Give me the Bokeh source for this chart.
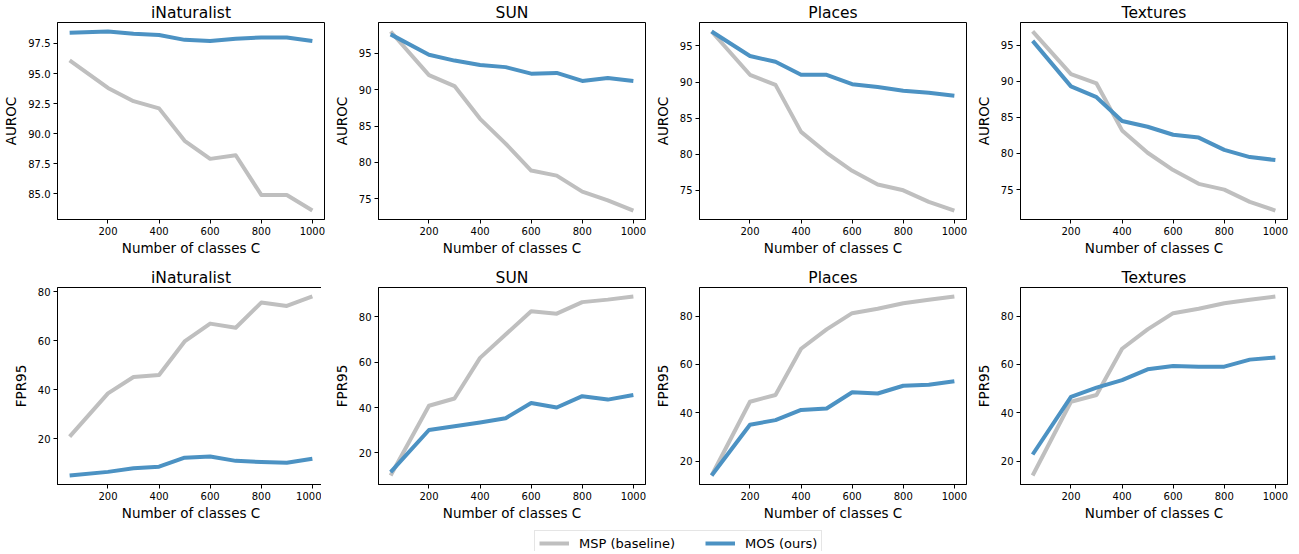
from bokeh.plotting import figure
from bokeh.layouts import gridplot, column
from bokeh.models import Range1d, FixedTicker, PrintfTickFormatter, Legend, LegendItem
from bokeh.embed import file_html
from bokeh.resources import INLINE

# ---- data ----
classes = [50, 200, 300, 400, 500, 600, 700, 800, 900, 1000]
datasets = ["iNaturalist", "SUN", "Places", "Textures"]

msp_auroc_inat = [96.1, 93.8, 92.7, 92.1, 89.4, 87.9, 88.2, 84.9, 84.9, 83.6]
mos_auroc_inat = [98.4, 98.5, 98.3, 98.2, 97.8, 97.7, 97.9, 98.0, 98.0, 97.7]
msp_auroc_sun = [98.0, 92.0, 90.5, 86.0, 82.6, 78.9, 78.2, 76.0, 74.8, 73.4]
mos_auroc_sun = [97.6, 94.8, 94.0, 93.4, 93.1, 92.2, 92.3, 91.2, 91.6, 91.2]
msp_auroc_places = [97.0, 91.0, 89.6, 83.1, 80.2, 77.7, 75.8, 75.0, 73.4, 72.2]
mos_auroc_places = [97.0, 93.6, 92.8, 91.0, 91.0, 89.7, 89.3, 88.8, 88.5, 88.1]
msp_auroc_textures = [96.9, 91.0, 89.7, 83.2, 80.1, 77.7, 75.8, 75.0, 73.3, 72.1]
mos_auroc_textures = [95.6, 89.3, 87.8, 84.5, 83.7, 82.6, 82.2, 80.5, 79.5, 79.1]

msp_fpr_inat = [20.8, 38.5, 45.2, 46.0, 59.7, 67.0, 65.3, 75.6, 74.2, 78.1]
mos_fpr_inat = [4.9, 6.4, 7.9, 8.5, 12.2, 12.7, 10.9, 10.4, 10.1, 11.8]
msp_fpr_sun = [10.0, 40.8, 44.0, 61.9, 72.2, 82.5, 81.4, 86.5, 87.6, 89.0]
mos_fpr_sun = [11.5, 30.1, 31.7, 33.4, 35.3, 42.0, 40.0, 45.0, 43.5, 45.5]
msp_fpr_places = [14.1, 44.6, 47.4, 66.5, 74.5, 81.2, 83.0, 85.3, 86.7, 88.1]
mos_fpr_places = [14.1, 35.1, 37.0, 41.2, 41.8, 48.5, 48.0, 51.2, 51.6, 53.1]
msp_fpr_textures = [14.1, 44.6, 47.4, 66.5, 74.5, 81.2, 83.0, 85.3, 86.7, 88.1]
mos_fpr_textures = [22.8, 46.6, 50.4, 53.5, 58.0, 59.4, 59.1, 59.1, 62.0, 62.9]

xticks = [200, 400, 600, 800, 1000]
auroc_ticks_inat = [85.0, 87.5, 90.0, 92.5, 95.0, 97.5]
auroc_ticks = [75, 80, 85, 90, 95]
fpr_ticks = [20, 40, 60, 80]

legend_labels = ["MSP (baseline)", "MOS (ours)"]
xlabel = "Number of classes C"

GRAY = "#BFBFBF"
BLUE = "#4C92C3"
FONT = "DejaVu Sans"


def make_panel(title, ylabel, msp, mos, yticks, fmt, bottom):
    lo = min(min(msp), min(mos))
    hi = max(max(msp), max(mos))
    pad = 0.05 * (hi - lo)
    xpad = 0.05 * (max(classes) - min(classes))
    p = figure(frame_width=267, frame_height=197,
               min_border_left=51, min_border_right=3,
               min_border_top=16, min_border_bottom=bottom,
               x_range=Range1d(min(classes) - xpad, max(classes) + xpad),
               y_range=Range1d(lo - pad, hi + pad),
               output_backend="svg", toolbar_location=None, title=title)
    p.title.text_font = FONT
    p.title.text_font_size = "15.5px"
    p.title.text_font_style = "normal"
    p.title.text_color = "black"
    p.title.align = "center"
    p.title.standoff = 2
    p.line(classes, msp, line_color=GRAY, line_width=4, line_join="round")
    p.line(classes, mos, line_color=BLUE, line_width=4, line_join="round")
    p.grid.visible = False
    p.outline_line_color = "black"
    p.outline_line_width = 1
    p.xaxis.ticker = FixedTicker(ticks=xticks)
    p.yaxis.ticker = FixedTicker(ticks=yticks)
    p.yaxis.formatter = PrintfTickFormatter(format=fmt)
    for ax in (p.xaxis[0], p.yaxis[0]):
        ax.axis_line_color = "black"
        ax.major_tick_line_color = "black"
        ax.minor_tick_line_color = None
        ax.major_tick_in = 0
        ax.major_tick_out = 4
        ax.major_label_text_font = FONT
        ax.major_label_text_font_size = "10px"
        ax.major_label_text_color = "black"
        ax.major_label_standoff = 3
        ax.axis_label_text_font = FONT
        ax.axis_label_text_font_size = "13.5px"
        ax.axis_label_text_font_style = "normal"
        ax.axis_label_text_color = "black"
    p.xaxis.axis_label = xlabel
    p.xaxis.axis_label_standoff = 2
    p.yaxis.axis_label = ylabel
    p.yaxis.axis_label_standoff = 6
    return p


rows = [
    [make_panel(datasets[0], "AUROC", msp_auroc_inat, mos_auroc_inat, auroc_ticks_inat, "%.1f", 46),
     make_panel(datasets[1], "AUROC", msp_auroc_sun, mos_auroc_sun, auroc_ticks, "%d", 46),
     make_panel(datasets[2], "AUROC", msp_auroc_places, mos_auroc_places, auroc_ticks, "%d", 46),
     make_panel(datasets[3], "AUROC", msp_auroc_textures, mos_auroc_textures, auroc_ticks, "%d", 46)],
    [make_panel(datasets[0], "FPR95", msp_fpr_inat, mos_fpr_inat, fpr_ticks, "%d", 38),
     make_panel(datasets[1], "FPR95", msp_fpr_sun, mos_fpr_sun, fpr_ticks, "%d", 38),
     make_panel(datasets[2], "FPR95", msp_fpr_places, mos_fpr_places, fpr_ticks, "%d", 38),
     make_panel(datasets[3], "FPR95", msp_fpr_textures, mos_fpr_textures, fpr_ticks, "%d", 38)],
]

grid = gridplot(rows, toolbar_location=None)

lf = figure(width=1284, height=28, min_border=0,
            x_range=Range1d(0, 1), y_range=Range1d(0, 1),
            x_axis_location=None, y_axis_location=None,
            output_backend="svg", toolbar_location=None)
lf.grid.visible = False
lf.outline_line_color = None
nan = float("nan")
r1 = lf.line(x=[nan], y=[nan], line_color=GRAY, line_width=4)
r2 = lf.line(x=[nan], y=[nan], line_color=BLUE, line_width=4)
legend = Legend(items=[LegendItem(label=legend_labels[0], renderers=[r1]),
                       LegendItem(label=legend_labels[1], renderers=[r2])],
                orientation="horizontal", location=(534, -5),
                glyph_width=30, glyph_height=16, label_height=16,
                label_standoff=10, spacing=30, padding=4, margin=0,
                border_line_color="#CCCCCC", border_line_width=1,
                label_text_font=FONT, label_text_font_size="13px",
                label_text_color="black")
lf.add_layout(legend)

layout = column(grid, lf)

open("out.html", "w").write(file_html(layout, INLINE))
